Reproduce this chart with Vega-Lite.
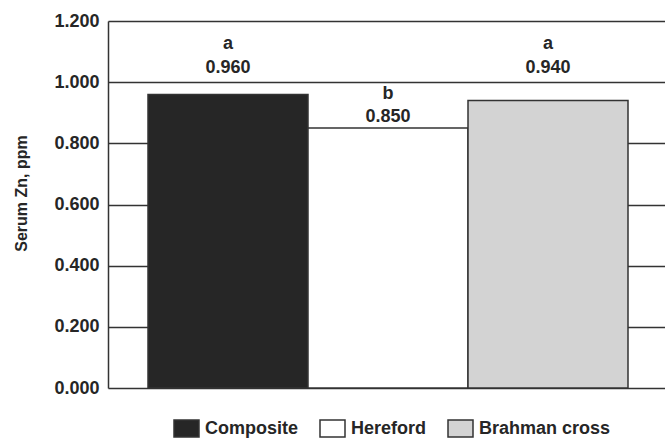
{
  "$schema": "https://vega.github.io/schema/vega-lite/v6.json",
  "autosize": "none",
  "padding": {"left": 108, "top": 21, "right": 0, "bottom": 50},
  "width": 560,
  "height": 367,
  "background": "white",
  "config": {
    "view": {"stroke": null},
    "font": "Liberation Sans",
    "text": {"font": "Liberation Sans"}
  },
  "data": {
    "values": [
      {"breed": "Composite", "zn": 0.96, "sig": "a"},
      {"breed": "Hereford", "zn": 0.85, "sig": "b"},
      {"breed": "Brahman cross", "zn": 0.94, "sig": "a"}
    ]
  },
  "encoding": {
    "x": {
      "field": "breed",
      "type": "nominal",
      "sort": ["Composite", "Hereford", "Brahman cross"],
      "scale": {"paddingInner": 0, "paddingOuter": 0.25},
      "axis": null
    }
  },
  "layer": [
    {
      "mark": {"type": "bar", "stroke": "#333333", "strokeWidth": 1.5},
      "encoding": {
        "y": {
          "field": "zn",
          "type": "quantitative",
          "scale": {"domain": [0, 1.2], "nice": false},
          "axis": {
            "values": [0, 0.2, 0.4, 0.6, 0.8, 1.0, 1.2],
            "format": ".3f",
            "title": "Serum Zn, ppm",
            "titleFont": "Liberation Sans",
            "titleFontSize": 16,
            "titleFontWeight": "bold",
            "titleColor": "#262626",
            "titlePadding": 24,
            "titleY": 172,
            "labelFont": "Liberation Sans",
            "labelFontSize": 18,
            "labelFontWeight": "bold",
            "labelColor": "#262626",
            "labelPadding": 9,
            "ticks": false,
            "domain": true,
            "domainColor": "#333333",
            "domainWidth": 1.5,
            "grid": true,
            "gridColor": "#333333",
            "gridWidth": 1.5,
            "gridOpacity": 1
          }
        },
        "fill": {
          "field": "breed",
          "type": "nominal",
          "scale": {
            "domain": ["Composite", "Hereford", "Brahman cross"],
            "range": ["#262626", "#ffffff", "#d3d3d3"]
          },
          "legend": {
            "title": null,
            "orient": "none",
            "legendX": 65,
            "legendY": 394,
            "direction": "horizontal",
            "symbolType": "M-1,-0.68H1V0.68H-1Z",
            "symbolSize": 625,
            "symbolStrokeColor": "#333333",
            "symbolStrokeWidth": 1.5,
            "symbolOpacity": 1,
            "labelFont": "Liberation Sans",
            "labelFontSize": 18,
            "labelFontWeight": "bold",
            "labelColor": "#262626",
            "labelOffset": 5,
            "columnPadding": 18
          }
        }
      }
    },
    {
      "transform": [{"filter": "datum.sig === 'a'"}],
      "mark": {"type": "text", "baseline": "alphabetic", "dy": -9, "fontSize": 18, "fontWeight": "bold", "color": "#262626"},
      "encoding": {
        "y": {"datum": 1.0, "type": "quantitative"},
        "text": {"field": "zn", "type": "quantitative", "format": ".3f"}
      }
    },
    {
      "transform": [{"filter": "datum.sig === 'a'"}],
      "mark": {"type": "text", "baseline": "alphabetic", "dy": -33, "fontSize": 18, "fontWeight": "bold", "color": "#262626"},
      "encoding": {
        "y": {"datum": 1.0, "type": "quantitative"},
        "text": {"field": "sig", "type": "nominal"}
      }
    },
    {
      "transform": [{"filter": "datum.sig === 'b'"}],
      "mark": {"type": "text", "baseline": "alphabetic", "dy": -6, "fontSize": 18, "fontWeight": "bold", "color": "#262626"},
      "encoding": {
        "y": {"field": "zn", "type": "quantitative"},
        "text": {"field": "zn", "type": "quantitative", "format": ".3f"}
      }
    },
    {
      "transform": [{"filter": "datum.sig === 'b'"}],
      "mark": {"type": "text", "baseline": "alphabetic", "dy": -29, "fontSize": 18, "fontWeight": "bold", "color": "#262626"},
      "encoding": {
        "y": {"field": "zn", "type": "quantitative"},
        "text": {"field": "sig", "type": "nominal"}
      }
    }
  ]
}
